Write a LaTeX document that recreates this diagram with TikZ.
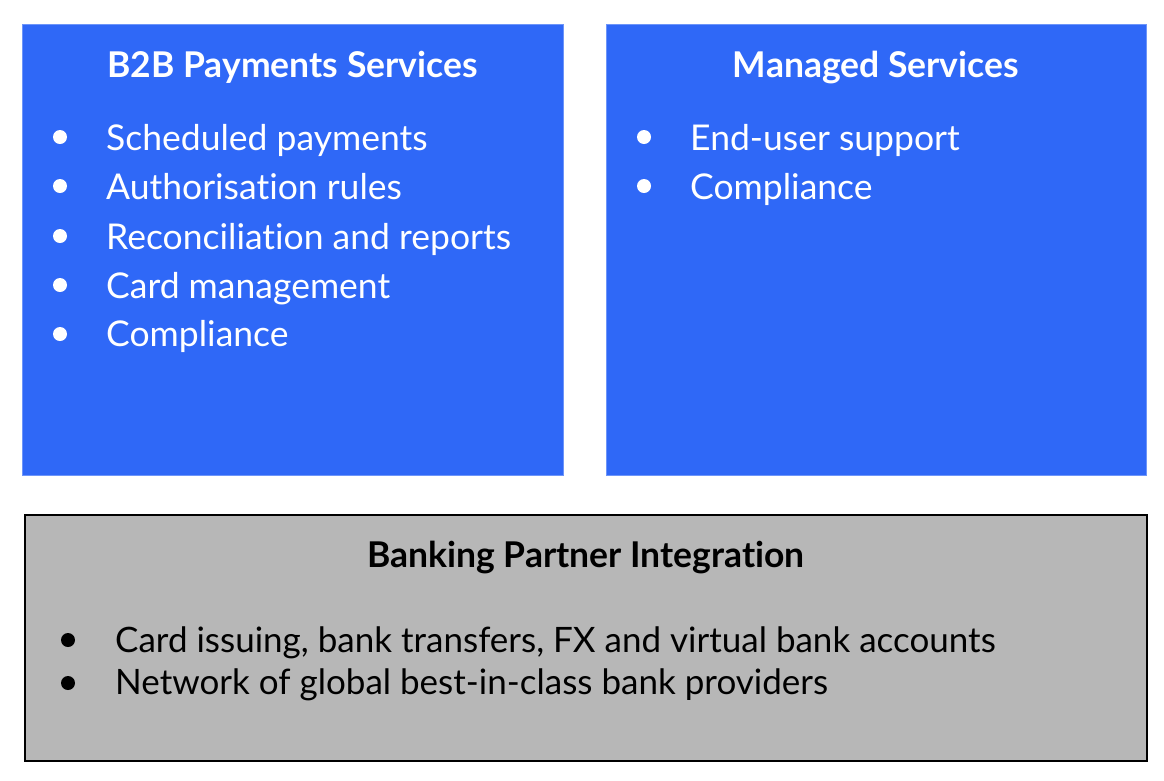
\documentclass[tikz,border=0pt]{standalone}
\usepackage{fontspec}
\setmainfont{Lato}[Ligatures=NoCommon]
\definecolor{payblue}{RGB}{47,104,247}
\definecolor{bankgray}{RGB}{183,183,183}
\tikzset{
  bluebox/.style={rectangle, fill=payblue, draw=payblue!70!white, line width=0.8pt, inner sep=0pt},
  graybox/.style={rectangle, fill=bankgray, draw=black, line width=1.8pt, inner sep=0pt},
  boxtitle/.style={font=\fontsize{35.5}{40}\selectfont\bfseries, anchor=base, inner sep=0pt},
  item/.style={font=\fontsize{35.5}{40}\selectfont, anchor=base west, inner sep=0pt},
  banktitle/.style={font=\fontsize{35.5}{40}\selectfont\bfseries, anchor=base, inner sep=0pt},
  bankitem/.style={font=\fontsize{35}{40}\selectfont, anchor=base west, inner sep=0pt},
  dot/.style={circle, inner sep=0pt, minimum size=14pt},
}
\begin{document}
\begin{tikzpicture}[x=1pt,y=-1pt]
      \useasboundingbox (0,0) rectangle (1164,780);
      % the three boxes
      \draw
        (292.5,249.5) node[bluebox, minimum width=541pt, minimum height=451pt] (payments){}
        (876,249.5) node[bluebox, minimum width=540pt, minimum height=451pt] (managed){}
        (586,638) node[graybox, minimum width=1122pt, minimum height=246pt] (banking){};
      % B2B payments
      \begin{scope}[text=white]
        \draw
          (292.5,77) node[boxtitle] (paytitle){B2B Payments Services}
          (60,137) node[dot, fill=white] (pd1){}
          (60,186) node[dot, fill=white] (pd2){}
          (60,236) node[dot, fill=white] (pd3){}
          (60,285) node[dot, fill=white] (pd4){}
          (60,334) node[dot, fill=white] (pd5){}
          (106,150) node[item] (pay1){Scheduled payments}
          (106,199) node[item] (pay2){Authorisation rules}
          (106,249) node[item] (pay3){Reconciliation and reports}
          (106,298) node[item] (pay4){Card management}
          (106,346) node[item] (pay5){Compliance};
      % managed services
        \draw
          (876,77) node[boxtitle] (mantitle){Managed Services}
          (644,137) node[dot, fill=white] (md1){}
          (644,186) node[dot, fill=white] (md2){}
          (690,150) node[item] (man1){End-user support}
          (690,199) node[item] (man2){Compliance};
      \end{scope}
      % banking partner
      \draw
        (586,567) node[banktitle] (banktitle){Banking Partner Integration}
        (68,640) node[dot, fill=black] (bd1){}
        (68,683) node[dot, fill=black] (bd2){}
        (115,652) node[bankitem] (bank1){Card issuing, bank transfers, FX and virtual bank accounts}
        (115,694) node[bankitem] (bank2){Network of global best-in-class bank providers};
    \end{tikzpicture}
\end{document}
